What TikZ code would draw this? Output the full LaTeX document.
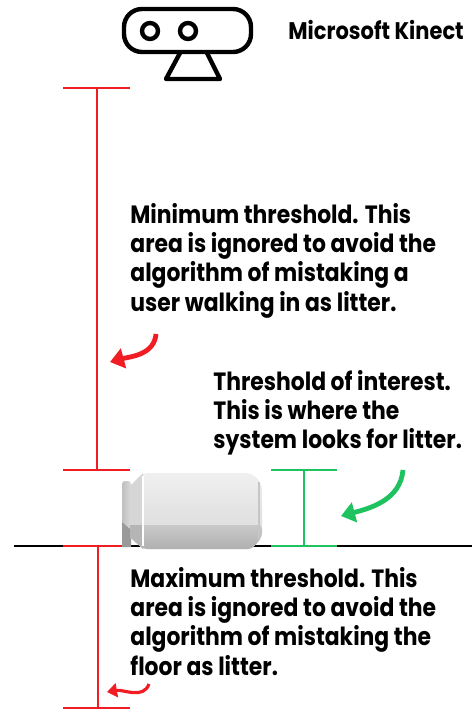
\documentclass[tikz,border=0pt]{standalone}
\usepackage{fontspec}
\setmainfont{Poppins}[FakeStretch=0.875]
\usepackage{tikz}
\usetikzlibrary{arrows.meta, positioning, calc}

\definecolor{kred}{RGB}{240,30,36}
\definecolor{kgreen}{RGB}{30,194,94}

\begin{document}
\begin{tikzpicture}[x=0.5pt, y=-0.5pt,
    note/.style={font=\bfseries\fontsize{12.5}{14.6}\selectfont, align=left, anchor=north west, inner sep=0pt},
    dim/.style={line width=1.1pt},
    curvearr/.style={line width=2.4pt, -{Triangle[length=7pt, width=10pt]}},
    icon/.style={line width=2.2pt, black, line join=round}
]
    \useasboundingbox (0,0) rectangle (472,711);

    % Kinect sensor icon
    \draw[icon, rounded corners=9pt] (124,9) rectangle (251,52);
    \draw[icon] (150,31) circle (8);
    \draw[icon] (188,31) circle (8);
    \draw[icon] (180,53) -- (166,79) -- (220,79) -- (207,53);
    \node[font=\bfseries\fontsize{12}{14}\selectfont, anchor=west, inner sep=0pt] (kinect) at (288,30) {Microsoft Kinect};

    % floor
    \draw[line width=1.1pt] (14,546) -- (472,546);

    % upper (minimum) range
    \coordinate (mintop) at (97,88);
    \coordinate (minbot) at (97,470);
    \draw[dim, kred] ($(mintop)+(-34,0)$) -- ($(mintop)+(33,0)$);
    \draw[dim, kred] ($(minbot)+(-34,0)$) -- ($(minbot)+(33,0)$);
    \draw[dim, kred] (mintop) -- (minbot);

    % lower (maximum) range
    \coordinate (maxtop) at (98,546);
    \coordinate (maxbot) at (98,708);
    \draw[dim, kred] ($(maxtop)+(-35,0)$) -- ($(maxtop)+(32,0)$);
    \draw[dim, kred] ($(maxbot)+(-35,0)$) -- ($(maxbot)+(32,0)$);
    \draw[dim, kred] (maxtop) -- (maxbot);

    % range of interest
    \coordinate (roitop) at (304,470);
    \coordinate (roibot) at (304,546);
    \draw[dim, kgreen] ($(roitop)+(-33,0)$) -- ($(roitop)+(33,0)$);
    \draw[dim, kgreen] ($(roibot)+(-33,0)$) -- ($(roibot)+(33,0)$);
    \draw[dim, kgreen] (roitop) -- (roibot);

    % the can lying on the floor
    \shade[left color=gray!50, right color=gray!30, rounded corners=1.5pt] (122,481) rectangle (131,547);
    \fill[gray!80] (122,522) -- (131,530) -- (131,547) -- (122,547) -- cycle;
    \shade[top color=gray!12, bottom color=gray!26, middle color=gray!22, rounded corners=3pt]
        (130,486) -- (143,473) -- (252,473) -- (262,484) -- (262,537) -- (252,549) -- (143,549) -- (130,537) -- cycle;
    \shade[top color=gray!42, bottom color=gray!62, rounded corners=2pt]
        (130,525) -- (262,525) -- (262,537) -- (252,549) -- (143,549) -- (130,537) -- cycle;
    \fill[gray!32] (130,486) -- (143,473) -- (143,549) -- (130,537) -- cycle;
    \fill[gray!58] (130,525) -- (143,525) -- (143,549) -- (130,537) -- cycle;
    \draw[white, line width=0.6pt] (143,476) -- (143,546);
    \draw[gray!45, line width=0.8pt] (259,482) -- (259,539);

    % labels
    \node[note] (minnote) at (130,203) {Minimum threshold. This\\area is ignored to avoid the\\algorithm of mistaking a\\user walking in as litter.};
    \node[note] (roinote) at (213,370) {Threshold of interest.\\This is where the\\system looks for litter.};
    \node[note] (maxnote) at (130,567) {Maximum threshold. This\\area is ignored to avoid the\\algorithm of mistaking the\\floor as litter.};

    % pointer arrows
    \coordinate (mintail) at (156,334);
    \coordinate (minhead) at (110,362);
    \draw[curvearr, kred] (mintail) to[out=-95, in=15] (minhead);
    \coordinate (roitail) at (403,470);
    \coordinate (roihead) at (341,516);
    \draw[curvearr, kgreen] (roitail) to[out=-95, in=15] (roihead);
    \coordinate (maxtail) at (149,684);
    \coordinate (maxhead) at (107,692);
    \draw[curvearr, kred, line width=1.6pt, -{Triangle[length=5pt, width=7pt]}] (maxtail) to[out=-110, in=10] (maxhead);
\end{tikzpicture}
\end{document}
